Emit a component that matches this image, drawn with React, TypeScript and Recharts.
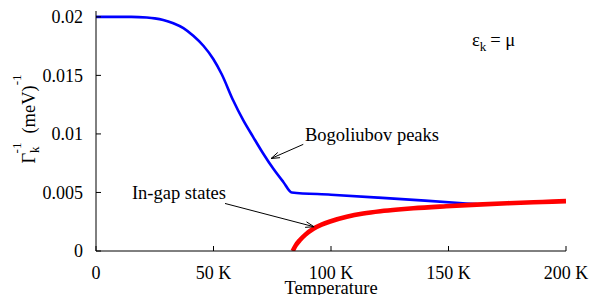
import { LineChart, Line, XAxis, YAxis, ReferenceLine, ReferenceDot } from "recharts"

// Bogoliubov peaks (blue)
const blueT = [
  0, 10, 15, 21.6, 25, 28.6, 32.9, 37.2, 41.4, 45.7, 49.9, 53.5, 58.4, 62.7, 66.9, 71.2, 75.4, 79.7, 83.3, 100, 120,
  140, 162,
]
const blueV = [
  0.02, 0.02, 0.02, 0.01994, 0.01987, 0.01974, 0.01946, 0.01904, 0.01838, 0.01753, 0.0164, 0.0151, 0.01285,
  0.01115, 0.00973, 0.00831, 0.00704, 0.0059, 0.005, 0.00481, 0.00456, 0.0043, 0.004,
]

// In-gap states (red)
const redT = [83.7, 85, 86.8, 89, 92.5, 96, 99.6, 106.7, 113.7, 121, 128.6, 135, 149, 162, 175, 190, 200]
const redV = [
  0, 0.00048, 0.00094, 0.00138, 0.0019, 0.00225, 0.00252, 0.00292, 0.0032, 0.0034, 0.00355, 0.00365, 0.00382,
  0.00396, 0.00408, 0.00419, 0.00426,
]

const xTicks = [0, 50, 100, 150, 200]
const yTicks = [0, 0.005, 0.01, 0.015, 0.02]

// annotation arrows [tail, head] in data units
const bogArrow = [{ x: 88.2, y: 0.00911 }, { x: 74.5, y: 0.0079 }]
const gapArrow = [{ x: 54.9, y: 0.00406 }, { x: 92.8, y: 0.00207 }]

const blueData = blueT.map((t, i) => ({ t, v: blueV[i] }))
const redData = redT.map((t, i) => ({ t, v: redV[i] }))

const FONT = "Liberation Serif"

function Arrow(props: any) {
  const { x1, y1, x2, y2 } = props
  const a = Math.atan2(y2 - y1, x2 - x1)
  const len = 9
  const spread = 0.32
  const p1 = [x2 - len * Math.cos(a - spread), y2 - len * Math.sin(a - spread)]
  const p2 = [x2 - len * Math.cos(a + spread), y2 - len * Math.sin(a + spread)]
  return (
    <g>
      <line x1={x1} y1={y1} x2={x2} y2={y2} stroke="#000" strokeWidth={1} />
      <polyline points={`${p1[0]},${p1[1]} ${x2},${y2} ${p2[0]},${p2[1]}`} fill="none" stroke="#000" strokeWidth={1} />
    </g>
  )
}

function textAt(content: any) {
  return (props: any) => (
    <text x={props.cx} y={props.cy} style={{ fontFamily: FONT }} fontSize={18.5} fill="#000">
      {content}
    </text>
  )
}

function YLabel(props: any) {
  const vb = props.viewBox || { x: 0, y: 11 }
  return (
    <text
      transform={`translate(${vb.x + 35},${vb.y + 108}) rotate(-90)`}
      textAnchor="middle"
      style={{ fontFamily: FONT }}
      fontSize={18.5}
      fill="#000"
    >
      Γ
      <tspan fontSize={13} dy={4}>k</tspan>
      <tspan fontSize={13} dx={-7} dy={-18}>-1</tspan>
      <tspan dx={9} dy={14}>(meV)</tspan>
      <tspan fontSize={13} dy={-14}>-1</tspan>
    </text>
  )
}

export default function App() {
  return (
    <div style={{ position: "absolute", left: 0, top: 0, background: "#fff" }}>
      <LineChart width={590} height={295} margin={{ top: 11, right: 24, left: 0, bottom: 0 }}>
        <XAxis
          xAxisId="b"
          type="number"
          dataKey="t"
          domain={[0, 200]}
          ticks={xTicks}
          tickFormatter={(v: number) => (v === 0 ? "0" : `${v} K`)}
          tickSize={-5}
          tickMargin={20}
          height={44}
          stroke="#000"
          tick={{ fill: "#000", fontSize: 18, style: { fontFamily: FONT } }}
          label={{ value: "Temperature", position: "insideBottom", offset: 1, fill: "#000", fontSize: 18.5, style: { fontFamily: FONT } }}
          allowDataOverflow
        />
        <XAxis
          xAxisId="t"
          orientation="top"
          type="number"
          dataKey="t"
          domain={[0, 200]}
          ticks={xTicks}
          tick={false}
          tickSize={-5}
          height={0}
          stroke="#000"
        />
        <YAxis
          yAxisId="l"
          type="number"
          domain={[0, 0.0205]}
          ticks={yTicks}
          tickFormatter={(v: number) => String(v)}
          tickSize={-5}
          tickMargin={18}
          width={96}
          stroke="#000"
          tick={{ fill: "#000", fontSize: 18, style: { fontFamily: FONT } }}
          label={(p: any) => <YLabel {...p} />}
          allowDataOverflow
        />
        <YAxis
          yAxisId="r"
          orientation="right"
          type="number"
          domain={[0, 0.0205]}
          ticks={yTicks}
          tick={false}
          tickSize={-5}
          width={0}
          stroke="#000"
        />
        <Line
          xAxisId="b"
          yAxisId="l"
          data={blueData}
          dataKey="v"
          type="monotone"
          stroke="#0000ff"
          strokeWidth={2.6}
          dot={false}
          isAnimationActive={false}
        />
        <Line
          xAxisId="b"
          yAxisId="l"
          data={redData}
          dataKey="v"
          type="monotone"
          stroke="#ff0000"
          strokeWidth={4.6}
          dot={false}
          isAnimationActive={false}
        />
        <ReferenceLine xAxisId="b" yAxisId="l" segment={bogArrow} shape={Arrow} />
        <ReferenceLine xAxisId="b" yAxisId="l" segment={gapArrow} shape={Arrow} />
        <ReferenceDot xAxisId="b" yAxisId="l" x={88.9} y={0.0094} r={0} shape={textAt("Bogoliubov peaks")} />
        <ReferenceDot xAxisId="b" yAxisId="l" x={15.3} y={0.0044} r={0} shape={textAt("In-gap states")} />
        <ReferenceDot
          xAxisId="b"
          yAxisId="l"
          x={160}
          y={0.01753}
          r={0}
          shape={textAt(
            <>
              ε<tspan fontSize={13} dy={5}>k</tspan>
              <tspan dx={4} dy={-5}>= μ</tspan>
            </>
          )}
        />
      </LineChart>
    </div>
  )
}
